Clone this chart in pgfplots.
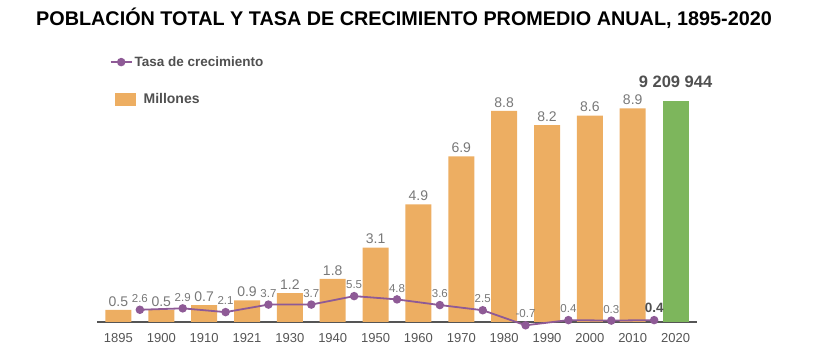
\documentclass[border=0pt]{standalone}
\usepackage{fontspec}
\setmainfont{Liberation Sans}
\usepackage{pgfplots}
\pgfplotsset{compat=1.18}
\definecolor{barorange}{RGB}{237,174,98}
\definecolor{bargreen}{RGB}{125,182,92}
\definecolor{linepurple}{RGB}{142,90,150}
\definecolor{labgray}{RGB}{120,120,120}
\definecolor{tickgray}{RGB}{85,85,85}
\definecolor{darkgray2}{RGB}{80,80,80}
\begin{document}
\begin{tikzpicture}[x=1pt,y=1pt]
\path[use as bounding box] (0,0) rectangle (825,358);
\node[font=\fontsize{19.8}{19.8}\selectfont\bfseries] at (404,340) {POBLACIÓN TOTAL Y TASA DE CRECIMIENTO PROMEDIO ANUAL, 1895-2020};
\begin{axis}[
  at={(97pt,36pt)}, anchor=south west,
  scale only axis, width=600pt, height=240pt,
  xmin=-0.5, xmax=13.5, ymin=0, ymax=10,
  axis x line*=bottom, axis y line=none,
  x axis line style={draw=tickgray, line width=1.3pt},
  xtick={0,...,13},
  xticklabels={1895,1900,1910,1921,1930,1940,1950,1960,1970,1980,1990,2000,2010,2020},
  major tick length=0pt,
  xticklabel style={font=\fontsize{13}{13}\selectfont, text=tickgray, yshift=-8pt},
  ybar, bar width=26pt, bar shift=0pt,
  clip=false,
  /pgf/number format/.cd, fixed, precision=1, zerofill, assume math mode=true,
  /pgfplots/.cd,
  legend style={at={(axis description cs:0.024,0.929)}, anchor=west, draw=none, fill=none,
    font=\fontsize{14}{14}\selectfont\bfseries, text=darkgray2},
  legend image code/.code={\fill[barorange] (0pt,-6.5pt) rectangle (21pt,6.5pt);},
]
\addplot[fill=barorange, draw=none,
  nodes near coords,
  every node near coord/.append style={font=\fontsize{14}{14}\selectfont, text=labgray}]
  coordinates {(0,0.5)(1,0.5)(2,0.7)(3,0.9)(4,1.2)(5,1.8)(6,3.1)(7,4.9)(8,6.9)(9,8.8)(10,8.2)(11,8.6)(12,8.9)};
\addlegendentry{\hspace{6pt}Millones}
\addplot[fill=bargreen, draw=none, forget plot,
  nodes near coords={\bfseries 9 209 944},
  every node near coord/.append style={font=\fontsize{16.5}{16.5}\selectfont, text=darkgray2, yshift=10pt}]
  coordinates {(13,9.21)};
\end{axis}
\begin{axis}[
  at={(97pt,36pt)}, anchor=south west,
  scale only axis, width=600pt, height=240pt,
  xmin=-0.5, xmax=13.5, ymin=0, ymax=51,
  axis lines=none, clip=false,
  legend style={at={(axis description cs:0.016,1.083)}, anchor=west, draw=none, fill=none,
    font=\fontsize{13.5}{13.5}\selectfont\bfseries, text=darkgray2},
  legend image code/.code={
    \draw[linepurple, line width=1.8pt] (0pt,0pt) -- (21pt,0pt);
    \fill[linepurple] (10.5pt,0pt) circle (3.3pt);},
]
\addplot[linepurple, line width=1.8pt, mark=*, mark size=3.3pt,
  mark options={fill=linepurple, draw=linepurple},
  point meta=explicit symbolic,
  nodes near coords,
  every node near coord/.append style={font=\fontsize{11.5}{11.5}\selectfont, text=labgray, yshift=3pt}]
  coordinates {(0.5,2.6)[2.6] (1.5,2.9)[2.9] (2.5,2.1)[2.1] (3.5,3.7)[3.7] (4.5,3.7)[3.7]
    (5.5,5.5)[5.5] (6.5,4.8)[4.8] (7.5,3.6)[3.6] (8.5,2.5)[2.5] (9.5,-0.7)[-0.7]
    (10.5,0.4)[0.4] (11.5,0.3)[0.3]
    (12.5,0.4)[{\fontsize{13.5}{13.5}\selectfont\bfseries\color{darkgray2}0.4}]};
\addlegendentry{Tasa de crecimiento}
\end{axis}
\end{tikzpicture}
\end{document}
